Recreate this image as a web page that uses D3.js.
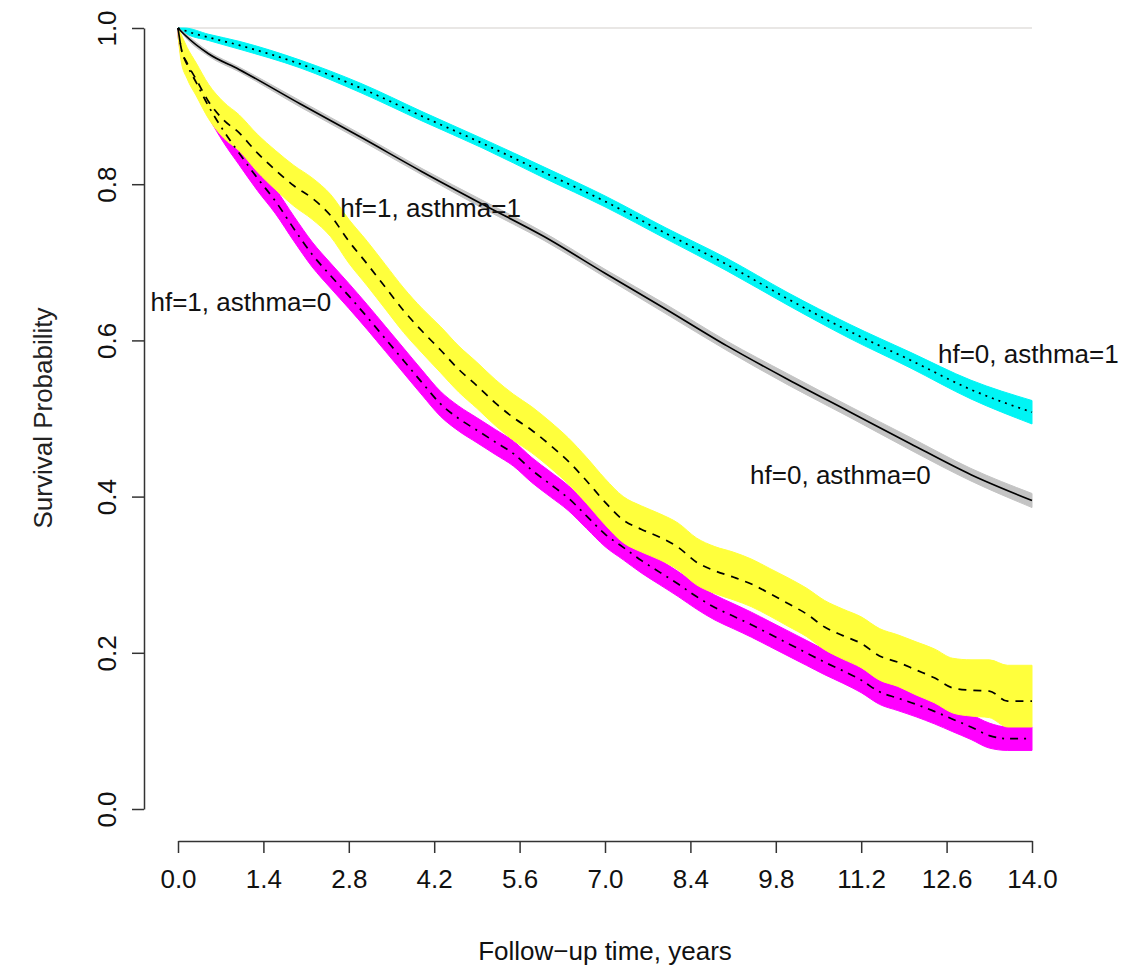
<!DOCTYPE html>
<html>
<head>
<meta charset="utf-8">
<script src="https://cdn.jsdelivr.net/npm/d3@7"></script>
<style>
  body { margin: 0; background: #fff; }
  text { font-family: "Liberation Sans", Arial, sans-serif; }
</style>
</head>
<body>
<div id="chart"></div>
<script>
// time grids (years)
var timeA = [0, 0.1, 0.5, 1, 2, 3, 4, 5, 6, 7, 8, 9, 10, 11, 12, 13, 14];
var timeB = [0, 0.05, 0.15, 0.3, 0.5, 0.75, 1.0, 1.3, 1.6, 1.9, 2.2, 2.5, 2.8, 3.1, 3.4, 3.7,
    4.0, 4.3, 4.6, 4.9, 5.2, 5.5, 5.8, 6.1, 6.4, 6.7, 7.0, 7.3, 7.6, 7.9, 8.2, 8.5, 8.8, 9.1,
    9.4, 9.7, 10.0, 10.3, 10.6, 10.9, 11.2, 11.5, 11.8, 12.1, 12.4, 12.7, 13.0, 13.3, 13.6, 14.0];

// hf=0, asthma=0
var s00 = [1, .992, .967, .947, .903, .860, .816, .774, .733, .686, .640, .593, .550, .509, .468, .428, .395];
var hi00 = [1, .994, .970, .950, .907, .864, .820, .779, .738, .691, .646, .599, .557, .516, .476, .436, .404];
var lo00 = [1, .990, .964, .944, .899, .856, .812, .769, .728, .681, .634, .587, .543, .502, .460, .420, .386];

// hf=0, asthma=1
var s01 = [1, .997, .988, .978, .954, .923, .887, .852, .815, .778, .737, .697, .653, .612, .575, .537, .508];
var hi01 = [1, 1, .992, .983, .959, .929, .893, .858, .822, .785, .744, .705, .661, .621, .585, .549, .523];
var lo01 = [1, .994, .984, .973, .949, .917, .881, .846, .808, .771, .730, .689, .645, .603, .565, .525, .493];

// hf=1, asthma=1
var s11 = [1, .975, .955, .934, .906, .882, .866, .840, .818, .798, .782, .760, .727, .698, .668, .638,
    .612, .588, .563, .542, .520, .501, .485, .466, .445, .420, .393, .370, .358, .348, .335, .316, .305, .297,
    .288, .276, .263, .250, .233, .222, .212, .196, .188, .178, .168, .155, .152, .151, .138, .138];
var hi11 = [1, .992, .975, .955, .928, .905, .889, .864, .843, .824, .808, .787, .755, .727, .697, .667,
    .641, .618, .593, .572, .550, .531, .515, .496, .475, .450, .423, .400, .388, .378, .366, .347, .336, .329,
    .320, .308, .296, .283, .267, .256, .246, .231, .223, .214, .205, .193, .191, .191, .184, .184];
var lo11 = [.99, .958, .935, .913, .884, .859, .843, .816, .793, .772, .755, .733, .699, .670, .640, .610,
    .584, .559, .534, .513, .491, .472, .456, .437, .416, .391, .364, .341, .329, .319, .306, .287, .276, .268,
    .259, .247, .234, .221, .204, .192, .181, .165, .157, .146, .136, .123, .119, .117, .105, .105];

// hf=1, asthma=0
var s10 = [1, .975, .953, .930, .900, .868, .840, .808, .778, .743, .710, .683, .657, .630, .602, .574,
    .546, .519, .500, .485, .470, .455, .434, .416, .398, .375, .352, .335, .318, .303, .288, .272, .258, .247,
    .236, .224, .212, .200, .188, .177, .165, .150, .142, .134, .125, .115, .105, .094, .090, .090];
var hi10 = [1, .987, .966, .944, .914, .883, .855, .824, .794, .759, .726, .699, .673, .646, .618, .590,
    .562, .535, .516, .501, .486, .471, .450, .432, .414, .391, .368, .351, .334, .319, .304, .288, .274, .263,
    .252, .240, .228, .216, .204, .193, .181, .166, .158, .150, .141, .131, .121, .110, .105, .105];
var lo10 = [.99, .963, .940, .916, .886, .853, .825, .792, .762, .727, .694, .667, .641, .614, .586, .558,
    .530, .503, .484, .469, .454, .439, .418, .400, .382, .359, .336, .319, .302, .287, .272, .256, .242, .231,
    .220, .208, .196, .184, .172, .161, .149, .134, .126, .118, .109, .099, .089, .078, .075, .075];

var xTicks = [0, 1.4, 2.8, 4.2, 5.6, 7.0, 8.4, 9.8, 11.2, 12.6, 14.0];
var yTicks = [0, 0.2, 0.4, 0.6, 0.8, 1.0];

var labelText = ["hf=1, asthma=1", "hf=1, asthma=0", "hf=0, asthma=1", "hf=0, asthma=0"];
var labelT = [4.14, 1.03, 13.94, 10.86];
var labelS = [0.770, 0.649, 0.583, 0.428];

var width = 1129, height = 970;
var svg = d3.select("#chart")
    .append("svg")
    .attr("width", width)
    .attr("height", height);

var x = d3.scaleLinear().domain([0, 14]).range([178, 1032]);
var y = d3.scaleLinear().domain([0, 1]).range([809, 28]);

function rows(t, s, lo, hi) {
    return t.map(function(d, i) { return {t: d, s: s[i], lo: lo[i], hi: hi[i]}; });
}

// magenta band first, yellow over it
var groups = [
    {rows: rows(timeB, s10, lo10, hi10), fill: "#ff00ff", dash: "2,6,8,6"},
    {rows: rows(timeB, s11, lo11, hi11), fill: "#ffff3c", dash: "8,7"},
    {rows: rows(timeA, s01, lo01, hi01), fill: "#00f5f5", dash: "2,5"},
    {rows: rows(timeA, s00, lo00, hi00), fill: "#c4c4c4", dash: null}
];

// top reference line
svg.append("line")
    .attr("x1", x(0)).attr("x2", x(14))
    .attr("y1", y(1)).attr("y2", y(1))
    .attr("stroke", "#e2dfdc")
    .attr("stroke-width", 1.5);

var area = d3.area()
    .curve(d3.curveMonotoneX)
    .x(function(d) { return x(d.t); })
    .y0(function(d) { return y(d.lo); })
    .y1(function(d) { return y(d.hi); });

var line = d3.line()
    .curve(d3.curveMonotoneX)
    .x(function(d) { return x(d.t); })
    .y(function(d) { return y(d.s); });

groups.forEach(function(g) {
    svg.append("path")
        .attr("d", area(g.rows))
        .attr("fill", g.fill)
        .attr("stroke", g.fill)
        .attr("stroke-width", 1);
});

groups.forEach(function(g) {
    svg.append("path")
        .attr("d", line(g.rows))
        .attr("fill", "none")
        .attr("stroke", "#000")
        .attr("stroke-width", 1.7)
        .attr("stroke-dasharray", g.dash);
});

// axes
var yAxis = svg.append("g")
    .attr("transform", "translate(144,0)")
    .call(d3.axisLeft(y).tickValues(yTicks).tickSize(12).tickSizeOuter(0).tickFormat(d3.format(".1f")));
yAxis.selectAll("text")
    .attr("x", null).attr("dy", null)
    .attr("text-anchor", "middle")
    .attr("transform", "translate(-28,0) rotate(-90)");

var xAxis = svg.append("g")
    .attr("transform", "translate(0,841)")
    .call(d3.axisBottom(x).tickValues(xTicks).tickSize(12).tickSizeOuter(0).tickFormat(d3.format(".1f")));
xAxis.selectAll("text")
    .attr("y", 47).attr("dy", null);

[yAxis, xAxis].forEach(function(a) {
    a.select(".domain").attr("stroke", "#333").attr("stroke-width", 1.5);
    a.selectAll(".tick line").attr("stroke", "#333").attr("stroke-width", 1.5);
    a.selectAll("text").attr("font-size", 26).attr("fill", "#111")
        .attr("font-family", "Liberation Sans, Arial, sans-serif");
});

svg.append("text")
    .attr("x", 605).attr("y", 960)
    .attr("text-anchor", "middle")
    .attr("font-size", 26)
    .attr("fill", "#111")
    .text("Follow\u2212up time, years");

svg.append("text")
    .attr("transform", "translate(52,418) rotate(-90)")
    .attr("text-anchor", "middle")
    .attr("font-size", 26)
    .attr("fill", "#222")
    .text("Survival Probability");

// curve labels
svg.selectAll(".lab")
    .data(labelText)
    .enter().append("text")
    .attr("class", "lab")
    .attr("x", function(d, i) { return x(labelT[i]); })
    .attr("y", function(d, i) { return y(labelS[i]); })
    .attr("dy", "0.36em")
    .attr("text-anchor", "middle")
    .attr("font-size", 26)
    .attr("fill", "#111")
    .text(function(d) { return d; });
</script>
</body>
</html>
